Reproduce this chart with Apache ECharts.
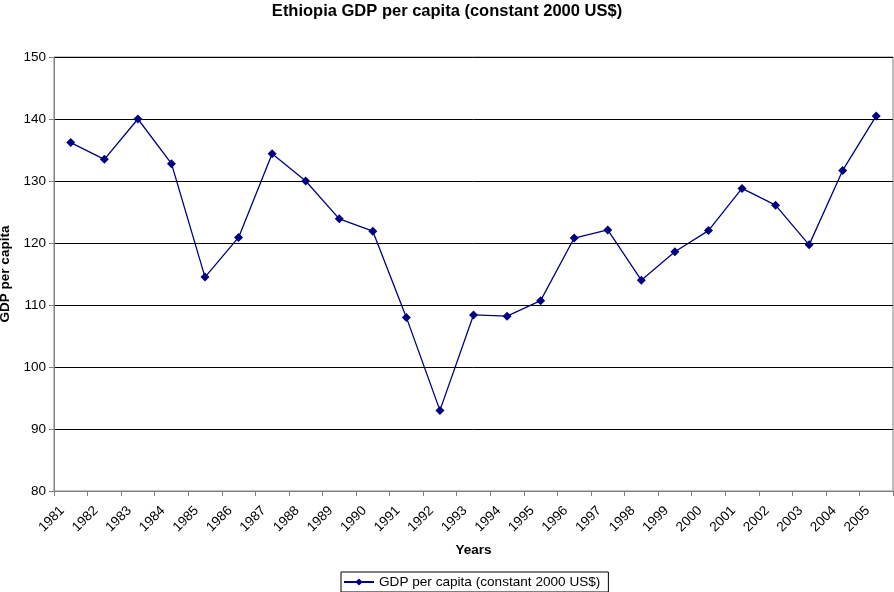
<!DOCTYPE html>
<html><head><meta charset="utf-8">
<script src="https://cdn.jsdelivr.net/npm/echarts@6/dist/echarts.min.js"></script>
<style>html,body{margin:0;padding:0;background:#fff}#c{width:894px;height:592px}</style>
</head><body><div id="c"></div>
<script>
const years = ['1981','1982','1983','1984','1985','1986','1987','1988','1989','1990','1991','1992','1993','1994','1995','1996','1997','1998','1999','2000','2001','2002','2003','2004','2005'];
const gdpPerCapita = [136.2,133.5,140.0,132.8,114.5,120.9,134.4,130.0,123.9,121.9,108.0,93.0,108.4,108.2,110.7,120.8,122.1,114.0,118.6,122.0,128.8,126.1,119.7,131.7,140.5];
const yTicks = [80,90,100,110,120,130,140,150];
const seriesName = 'GDP per capita (constant 2000 US$)';
const font = 'Arial, "Liberation Sans", sans-serif';
const chart = echarts.init(document.getElementById('c'));
chart.setOption({
  animation:false,
  backgroundColor:'#fff',
  title:{text:'Ethiopia GDP per capita (constant 2000 US$)',left:'center',top:-2,
    textStyle:{fontFamily:font,fontSize:16.5,fontWeight:'bold',color:'#000'}},
  grid:{left:54,right:1,top:57,bottom:101,show:true,borderColor:'#808080',borderWidth:1,backgroundColor:'#fff',
    containLabel:false,outerBoundsMode:'none'},
  legend:{bottom:0,left:341,data:[seriesName],borderColor:'#000',borderWidth:1,padding:[3,8,3,2],
    itemWidth:30,itemHeight:9,itemGap:4,
    textStyle:{fontFamily:font,fontSize:13.6,color:'#000'}},
  xAxis:{type:'category',data:years,boundaryGap:true,name:'Years',nameLocation:'middle',nameGap:52,
    nameTextStyle:{fontFamily:font,fontSize:13.5,fontWeight:'bold',color:'#000'},
    axisLine:{lineStyle:{color:'#808080'}},
    axisTick:{show:true,length:5,lineStyle:{color:'#808080'}},
    axisLabel:{rotate:45,fontFamily:font,fontSize:13.5,color:'#000',margin:9,padding:[0,12,0,0],interval:0},
    splitLine:{show:false}},
  yAxis:{type:'value',min:yTicks[0],max:yTicks[yTicks.length-1],interval:10,name:'GDP per capita',nameLocation:'middle',nameGap:40,
    nameTextStyle:{fontFamily:font,fontSize:13.5,fontWeight:'bold',color:'#000'},
    axisLine:{show:true,lineStyle:{color:'#808080'}},
    axisTick:{show:true,length:5,lineStyle:{color:'#808080'}},
    axisLabel:{fontFamily:font,fontSize:13.5,color:'#000',margin:8},
    splitLine:{show:true,lineStyle:{color:'#000',width:1}}},
  series:[{name:seriesName,type:'line',data:gdpPerCapita,symbol:'diamond',symbolSize:9,
    lineStyle:{color:'#000080',width:1.3},itemStyle:{color:'#000080'}}]
});
</script></body></html>
